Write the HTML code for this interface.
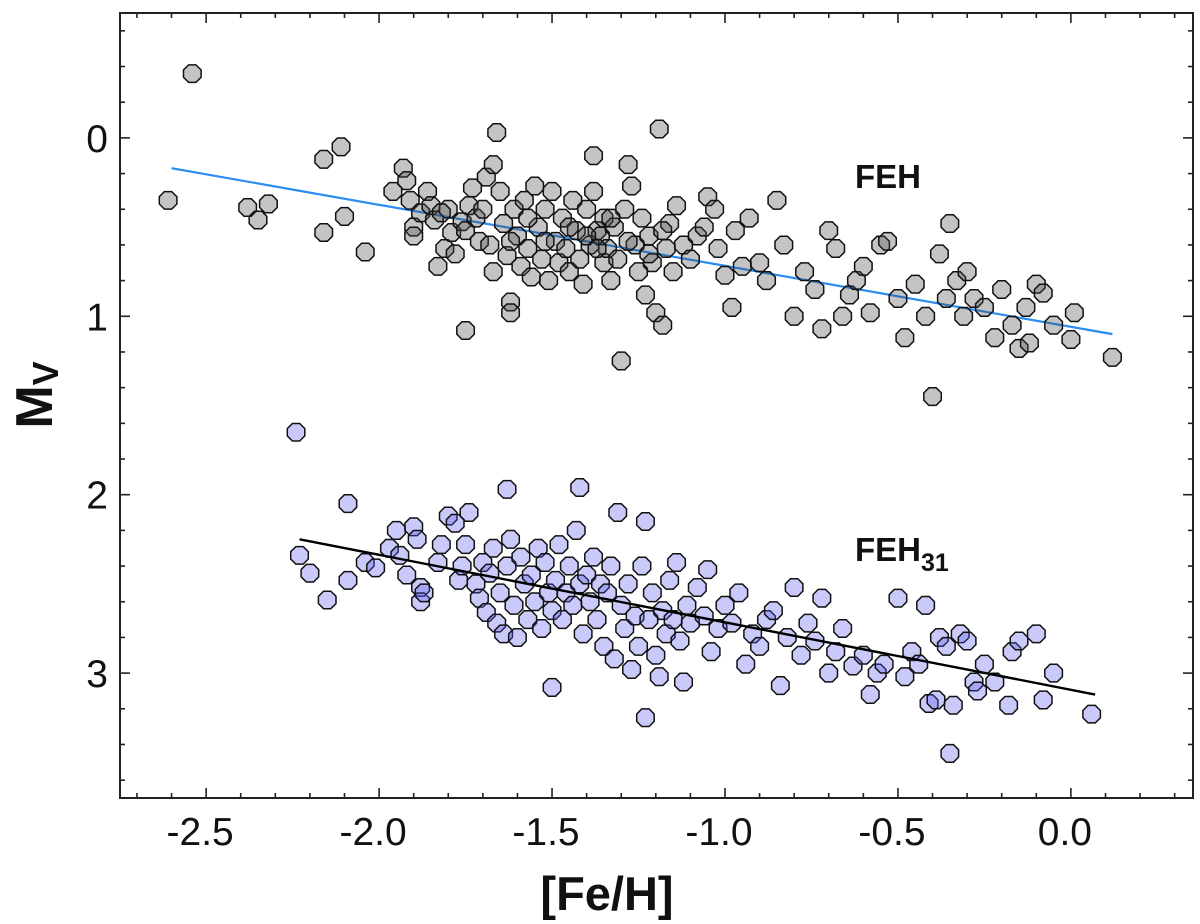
<!DOCTYPE html>
<html><head><meta charset="utf-8"><style>
html,body{margin:0;padding:0;background:#fff;}
svg{display:block;font-family:"Liberation Sans",Arial,sans-serif;}
</style></head><body>
<svg id="chart" width="1200" height="924" viewBox="0 0 1200 924">
<rect x="0" y="0" width="1200" height="924" fill="#fff"/>
<g id="ticks"></g>
<g id="lines"></g>
<g id="grayPts"></g>
<g id="bluePts"></g>
<rect x="120" y="13" width="1073" height="785" fill="none" stroke="#222" stroke-width="2"/>
<g id="labels" font-size="39" fill="#111"></g>
<text x="855" y="188" font-size="33" font-weight="bold" fill="#111">FEH</text>
<text x="855" y="561" font-size="33" font-weight="bold" fill="#111">FEH<tspan font-size="25" dy="10">31</tspan></text>
<text x="607" y="910" font-size="47" font-weight="bold" text-anchor="middle" fill="#111">[Fe/H]</text>
<text transform="translate(52,395) rotate(-90)" font-size="52" font-weight="bold" text-anchor="middle" fill="#111">M<tspan font-size="36" dy="6">V</tspan></text>
</svg>
<script>
const xTicks=[-2.5,-2.0,-1.5,-1.0,-0.5,0.0];
const xTickLabels=["-2.5","-2.0","-1.5","-1.0","-0.5","0.0"];
const yTicks=[0,1,2,3];
const yTickLabels=["0","1","2","3"];
const fehX=[-2.54,-2.61,-2.16,-2.11,-2.38,-2.32,-2.35,-2.16,-2.10,-2.04,-1.96,-1.93,-1.92,-1.91,-1.90,-1.88,-1.90,-1.86,-1.85,-1.84,-1.83,-1.81,-1.80,-1.79,-1.78,-1.76,-1.75,-1.74,-1.73,-1.72,-1.71,-1.70,-1.69,-1.68,-1.67,-1.67,-1.66,-1.65,-1.64,-1.63,-1.62,-1.62,-1.61,-1.60,-1.59,-1.58,-1.57,-1.56,-1.55,-1.54,-1.53,-1.52,-1.51,-1.50,-1.49,-1.48,-1.47,-1.46,-1.45,-1.44,-1.43,-1.42,-1.41,-1.40,-1.39,-1.38,-1.38,-1.37,-1.36,-1.35,-1.35,-1.34,-1.33,-1.32,-1.31,-1.30,-1.29,-1.28,-1.27,-1.26,-1.25,-1.24,-1.23,-1.22,-1.21,-1.20,-1.19,-1.18,-1.17,-1.16,-1.15,-1.14,-1.12,-1.10,-1.08,-1.06,-1.05,-1.03,-1.02,-1.00,-0.98,-0.97,-0.95,-0.93,-0.90,-0.88,-0.85,-0.83,-0.80,-0.77,-0.74,-0.72,-0.70,-0.68,-0.66,-0.64,-0.62,-0.60,-0.58,-0.55,-0.53,-0.50,-0.48,-0.45,-0.42,-0.40,-0.38,-0.36,-0.35,-0.33,-0.31,-0.30,-0.28,-0.25,-0.22,-0.20,-0.17,-0.15,-0.13,-0.12,-0.10,-0.08,-0.05,0.00,0.01,0.12,-1.52,-1.45,-1.40,-1.37,-1.33,-1.28,-1.22,-1.18,-1.57,-1.62,-1.75,-1.82];
const fehY=[-0.36,0.35,0.12,0.05,0.39,0.37,0.46,0.53,0.44,0.64,0.30,0.17,0.24,0.35,0.50,0.42,0.55,0.30,0.38,0.46,0.72,0.62,0.40,0.53,0.65,0.47,1.08,0.38,0.28,0.45,0.58,0.40,0.22,0.60,0.75,0.15,-0.03,0.30,0.48,0.66,0.92,0.98,0.40,0.55,0.72,0.35,0.62,0.78,0.27,0.50,0.68,0.40,0.80,0.30,0.58,0.70,0.45,0.62,0.75,0.35,0.52,0.68,0.82,0.40,0.60,0.10,0.30,0.52,0.55,0.45,0.70,0.62,0.80,0.50,0.68,1.25,0.40,0.15,0.27,0.60,0.75,0.45,0.88,0.55,0.70,0.98,-0.05,1.05,0.62,0.48,0.75,0.38,0.60,0.68,0.55,0.50,0.33,0.40,0.62,0.77,0.95,0.52,0.72,0.45,0.70,0.80,0.35,0.60,1.00,0.75,0.85,1.07,0.52,0.62,1.00,0.88,0.80,0.72,0.98,0.60,0.58,0.90,1.12,0.82,1.00,1.45,0.65,0.90,0.48,0.80,1.00,0.75,0.90,0.95,1.12,0.85,1.05,1.18,0.95,1.15,0.82,0.87,1.05,1.13,0.98,1.23,0.58,0.50,0.55,0.62,0.45,0.58,0.65,0.52,0.45,0.58,0.52,0.42];
const feh31X=[-2.24,-2.09,-2.23,-2.20,-2.15,-2.09,-2.04,-2.01,-1.97,-1.95,-1.94,-1.92,-1.90,-1.89,-1.88,-1.88,-1.87,-1.83,-1.82,-1.80,-1.78,-1.77,-1.76,-1.75,-1.74,-1.72,-1.71,-1.70,-1.69,-1.68,-1.67,-1.66,-1.65,-1.64,-1.63,-1.63,-1.62,-1.61,-1.60,-1.59,-1.58,-1.57,-1.56,-1.55,-1.54,-1.53,-1.52,-1.51,-1.50,-1.50,-1.49,-1.48,-1.47,-1.46,-1.45,-1.44,-1.43,-1.42,-1.42,-1.41,-1.40,-1.39,-1.38,-1.37,-1.36,-1.35,-1.34,-1.33,-1.32,-1.31,-1.30,-1.29,-1.28,-1.27,-1.26,-1.25,-1.24,-1.23,-1.23,-1.22,-1.21,-1.20,-1.19,-1.18,-1.17,-1.16,-1.15,-1.14,-1.13,-1.12,-1.11,-1.10,-1.08,-1.06,-1.05,-1.04,-1.02,-1.00,-0.98,-0.96,-0.94,-0.92,-0.90,-0.88,-0.86,-0.84,-0.82,-0.80,-0.78,-0.76,-0.74,-0.72,-0.70,-0.68,-0.66,-0.63,-0.60,-0.58,-0.56,-0.54,-0.50,-0.48,-0.46,-0.44,-0.42,-0.41,-0.39,-0.38,-0.36,-0.35,-0.34,-0.32,-0.30,-0.28,-0.27,-0.25,-0.22,-0.18,-0.17,-0.15,-0.10,-0.08,-0.05,0.06];
const feh31Y=[1.65,2.05,2.34,2.44,2.59,2.48,2.38,2.41,2.30,2.20,2.34,2.45,2.18,2.25,2.52,2.60,2.55,2.38,2.28,2.12,2.16,2.48,2.40,2.28,2.10,2.50,2.58,2.38,2.66,2.44,2.30,2.72,2.55,2.78,2.40,1.97,2.25,2.62,2.80,2.35,2.50,2.70,2.45,2.60,2.30,2.75,2.38,2.55,3.08,2.65,2.48,2.28,2.70,2.55,2.40,2.62,2.20,1.96,2.50,2.78,2.45,2.60,2.35,2.70,2.50,2.85,2.55,2.40,2.92,2.10,2.62,2.75,2.50,2.98,2.68,2.85,2.40,3.25,2.15,2.70,2.55,2.90,3.02,2.65,2.78,2.48,2.70,2.38,2.82,3.05,2.62,2.72,2.52,2.68,2.42,2.88,2.75,2.62,2.72,2.55,2.95,2.78,2.85,2.70,2.65,3.07,2.80,2.52,2.90,2.72,2.82,2.58,3.00,2.88,2.75,2.96,2.90,3.12,3.00,2.95,2.58,3.02,2.88,2.95,2.62,3.17,3.15,2.80,2.85,3.45,3.18,2.78,2.82,3.05,3.10,2.95,3.05,3.18,2.88,2.82,2.78,3.15,3.00,3.23];
const fitFehX=[-2.60,0.12];
const fitFehY=[0.17,1.10];
const fitFeh31X=[-2.23,0.07];
const fitFeh31Y=[2.25,3.12];

const NS="http://www.w3.org/2000/svg";
const X0=120,X1=1193,Y0=13,Y1=798;
const xMin=-2.749,xMax=0.353,yMin=-0.70,yMax=3.70;
function sx(v){return X0+(v-xMin)/(xMax-xMin)*(X1-X0);}
function sy(v){return Y0+(v-yMin)/(yMax-yMin)*(Y1-Y0);}
function mk(tag,attrs,parent){const e=document.createElementNS(NS,tag);for(const k in attrs)e.setAttribute(k,attrs[k]);parent.appendChild(e);return e;}

const tg=document.getElementById('ticks');
for(let i=-27;i<=3;i++){
  const v=i/10;const x=sx(v);const major=(i%5===0);const L=major?10:5;
  let t=mk('line',{x1:x,y1:Y1,x2:x,y2:Y1-L,stroke:'#222','stroke-width':1.6},tg);
  
  
  let t2=mk('line',{x1:x,y1:Y0,x2:x,y2:Y0+L,stroke:'#222','stroke-width':1.6},tg);
  
  
}
for(let i=-3;i<=18;i++){
  const v=i/5;const y=sy(v);if(y<Y0+1||y>Y1-1)continue;const major=(i%5===0);const L=major?10:5;
  let t=mk('line',{x1:X0,y1:y,x2:X0+L,y2:y,stroke:'#222','stroke-width':1.6},tg);
  
  
  let t2=mk('line',{x1:X1,y1:y,x2:X1-L,y2:y,stroke:'#222','stroke-width':1.6},tg);
  
  
}
const lg=document.getElementById('labels');
xTicks.forEach((v,i)=>{
  const t=mk('text',{x:sx(v)-6,y:845,'text-anchor':'middle'},lg);
  t.textContent=xTickLabels[i];
  
  
});
yTicks.forEach((v,i)=>{
  const t=mk('text',{x:108,y:sy(v)+14,'text-anchor':'end'},lg);
  t.textContent=yTickLabels[i];
  
  
});

const ln=document.getElementById('lines');
let l1=mk('line',{x1:sx(fitFehX[0]),y1:sy(fitFehY[0]),x2:sx(fitFehX[1]),y2:sy(fitFehY[1]),stroke:'#2a8cf0','stroke-width':2.2},ln);



function oct(cx,cy,r){let p=[];for(let k=0;k<8;k++){const a=Math.PI/8+k*Math.PI/4;p.push((cx+r*Math.cos(a)).toFixed(1)+','+(cy+r*Math.sin(a)).toFixed(1));}return p.join(' ');}
const gp=document.getElementById('grayPts');
fehX.forEach((v,i)=>{
  const p=mk('polygon',{points:oct(sx(v),sy(fehY[i]),9.5),fill:'rgba(70,70,70,0.32)',stroke:'#111','stroke-width':1.5},gp);
  
  
});
const bp=document.getElementById('bluePts');
feh31X.forEach((v,i)=>{
  const p=mk('polygon',{points:oct(sx(v),sy(feh31Y[i]),9.5),fill:'rgba(90,90,240,0.33)',stroke:'#111','stroke-width':1.5},bp);
  
  
});
let l2=mk('line',{x1:sx(fitFeh31X[0]),y1:sy(fitFeh31Y[0]),x2:sx(fitFeh31X[1]),y2:sy(fitFeh31Y[1]),stroke:'#000','stroke-width':2.4},bp);


</script>
</body></html>
